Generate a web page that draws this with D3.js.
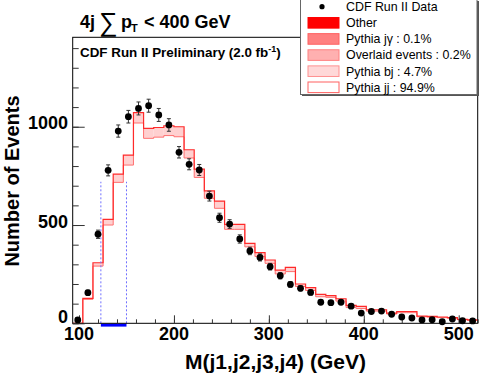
<!DOCTYPE html>
<html lang="en">
<head>
    <meta charset="UTF-8">
    <title>4j sum pT &lt; 400 GeV - M(j1,j2,j3,j4)</title>
    <script src="https://d3js.org/d3.v7.min.js"></script>
    <style>
        body {
            margin: 0;
            background: #fff;
            font-family: "Liberation Sans", Arial, Helvetica, sans-serif;
        }
        svg {
            display: block;
        }
        .tick-label {
            font-size: 18px;
            font-weight: bold;
            fill: #000;
        }
        .legend text {
            font-size: 12.4px;
            fill: #000;
        }
    </style>
</head>
<body>
    <svg width="479" height="374"></svg>
    <script>
        // histogram range: 40 bins between these masses (GeV)
        const massRange = [93.33, 520];
        const nBins = 40;

        // CDF data, events per bin
        const dataCounts = [17, 156, 453, 778, 978, 1051, 1093, 1107, 1060, 1009,
            870, 809, 780, 647, 537, 505, 429, 368, 335, 288,
            242, 198, 178, 157, 107, 105, 107, 87, 52, 60,
            62, 46, 32, 27, 17, 18, 8, 22, 13, 12];
        const dataErrors = [4, 12, 21, 28, 31, 32, 33, 33, 33, 32,
            29, 28, 28, 25, 23, 22, 21, 19, 18, 17,
            16, 14, 13, 13, 10, 10, 10, 9, 7, 8,
            8, 7, 6, 5, 4, 4, 3, 5, 4, 3];

        // stacked MC total (top of band) and Pythia jj alone (bottom of band)
        const mcTotal = [0, 127, 308, 529, 759, 856, 1072, 992, 996, 1005,
            1000, 883, 784, 674, 622, 503, 503, 407, 360, 322,
            271, 285, 200, 181, 147, 141, 125, 91, 86, 69,
            69, 52, 60, 60, 37, 35, 32, 29, 20, 17];
        const mcJJ = [0, 122, 291, 500, 717, 805, 1019, 941, 947, 955,
            949, 841, 742, 636, 585, 478, 478, 389, 340, 305,
            251, 263, 187, 167, 135, 132, 113, 80, 75, 62,
            62, 47, 54, 54, 33, 31, 29, 26, 18, 15];

        // blue marked window on the mass axis
        const markWindow = [123, 150];
        const markHeight = 720;

        const xMajor = [100, 200, 300, 400, 500];
        const yMajor = [0, 500, 1000];

        const legendLabels = ["CDF Run II Data", "Other", "Pythia j\u03b3 : 0.1%",
            "Overlaid events : 0.2%", "Pythia bj : 4.7%", "Pythia jj : 94.9%"];
        const legendFills = [null, "#ff0000", "#ff8080", "#ffb0b0", "#ffd8d8", "#ffffff"];
        const legendStrokes = [null, "#ff0000", "#ff6060", "#ff8080", "#ff9090", "#ff6060"];

        const svg = d3.select("svg");

        const frame = { left: 72.7, right: 477.7, top: 37.3, bottom: 323.3 };

        const x = d3.scaleLinear().domain(massRange).range([frame.left, frame.right]);
        const y = d3.scaleLinear().domain([0, 1455]).range([frame.bottom, frame.top]);

        const binWidth = (massRange[1] - massRange[0]) / nBins;
        const edge = i => massRange[0] + i * binWidth;
        const center = i => massRange[0] + (i + 0.5) * binWidth;

        // step path helper
        function stepPoints(vals) {
            const pts = [[x(edge(0)), y(0)]];
            vals.forEach((v, i) => {
                pts.push([x(edge(i)), y(v)]);
                pts.push([x(edge(i + 1)), y(v)]);
            });
            return pts;
        }

        // band between jj and total
        const band = [];
        mcTotal.forEach((v, i) => {
            band.push({ x0: edge(i), x1: edge(i + 1), lo: mcJJ[i], hi: v });
        });
        svg.append("g").selectAll("rect")
            .data(band)
            .enter().append("rect")
            .attr("x", d => x(d.x0))
            .attr("width", d => x(d.x1) - x(d.x0))
            .attr("y", d => y(d.hi))
            .attr("height", d => y(d.lo) - y(d.hi))
            .attr("fill", "#ffd0d0");

        const line = d3.line();
        svg.append("path")
            .attr("d", line(stepPoints(mcJJ)))
            .attr("fill", "none")
            .attr("stroke", "#ff7070")
            .attr("stroke-width", 1);
        svg.append("path")
            .attr("d", line(stepPoints(mcTotal)))
            .attr("fill", "none")
            .attr("stroke", "#ff2a2a")
            .attr("stroke-width", 1.2);

        // blue window
        markWindow.forEach(m => {
            svg.append("line")
                .attr("x1", x(m)).attr("x2", x(m))
                .attr("y1", y(0)).attr("y2", y(markHeight))
                .attr("stroke", "#7070ff")
                .attr("stroke-width", 1)
                .attr("stroke-dasharray", "2,2");
        });
        svg.append("line")
            .attr("x1", x(markWindow[0])).attr("x2", x(markWindow[1]))
            .attr("y1", y(0) + 1.8).attr("y2", y(0) + 1.8)
            .attr("stroke", "#0000ff")
            .attr("stroke-width", 3);

        // frame
        svg.append("rect")
            .attr("x", frame.left).attr("y", frame.top)
            .attr("width", frame.right - frame.left)
            .attr("height", frame.bottom - frame.top)
            .attr("fill", "none")
            .attr("stroke", "#000")
            .attr("stroke-width", 1);

        // x ticks
        const xMinor = d3.range(100, 521, 20);
        svg.append("g").attr("transform", `translate(0,${frame.bottom})`)
            .call(d3.axisBottom(x).tickValues(xMinor).tickSize(-4).tickFormat(""))
            .call(g => g.select(".domain").remove())
            .selectAll("line").attr("stroke", "#333");
        svg.append("g").attr("transform", `translate(0,${frame.bottom})`)
            .call(d3.axisBottom(x).tickValues(xMajor).tickSize(-8).tickFormat(""))
            .call(g => g.select(".domain").remove())
            .selectAll("line").attr("stroke", "#333");
        svg.append("g").selectAll("text")
            .data(xMajor)
            .enter().append("text")
            .attr("class", "tick-label")
            .attr("x", d => x(d))
            .attr("y", 340)
            .attr("text-anchor", "middle")
            .text(d => d);

        // y ticks
        const yMinor = d3.range(0, 1401, 100);
        svg.append("g").attr("transform", `translate(${frame.left},0)`)
            .call(d3.axisLeft(y).tickValues(yMinor).tickSize(-6).tickFormat(""))
            .call(g => g.select(".domain").remove())
            .selectAll("line").attr("stroke", "#333");
        svg.append("g").attr("transform", `translate(${frame.left},0)`)
            .call(d3.axisLeft(y).tickValues(yMajor).tickSize(-12).tickFormat(""))
            .call(g => g.select(".domain").remove())
            .selectAll("line").attr("stroke", "#333");
        svg.append("g").selectAll("text")
            .data(yMajor)
            .enter().append("text")
            .attr("class", "tick-label")
            .attr("x", 68)
            .attr("y", d => y(d) + (d === 0 ? 0 : 2.5))
            .attr("text-anchor", "end")
            .text(d => d);

        // data points with error bars
        const pts = dataCounts.map((v, i) => ({ m: center(i), v: v, e: dataErrors[i] }));
        const eb = svg.append("g").attr("stroke", "#333").attr("stroke-width", 1);
        eb.selectAll("line.bar")
            .data(pts)
            .enter().append("line")
            .attr("class", "bar")
            .attr("x1", d => x(d.m)).attr("x2", d => x(d.m))
            .attr("y1", d => y(d.v - d.e)).attr("y2", d => y(d.v + d.e));
        eb.selectAll("line.capt")
            .data(pts)
            .enter().append("line")
            .attr("class", "capt")
            .attr("x1", d => x(d.m) - 2).attr("x2", d => x(d.m) + 2)
            .attr("y1", d => y(d.v + d.e)).attr("y2", d => y(d.v + d.e));
        eb.selectAll("line.capb")
            .data(pts)
            .enter().append("line")
            .attr("class", "capb")
            .attr("x1", d => x(d.m) - 2).attr("x2", d => x(d.m) + 2)
            .attr("y1", d => y(d.v - d.e)).attr("y2", d => y(d.v - d.e));
        svg.append("g").selectAll("circle")
            .data(pts)
            .enter().append("circle")
            .attr("cx", d => x(d.m))
            .attr("cy", d => y(d.v))
            .attr("r", 3.4)
            .attr("fill", "#000");

        // axis titles
        svg.append("text")
            .attr("x", 275.5).attr("y", 369)
            .attr("text-anchor", "middle")
            .attr("font-size", 21).attr("font-weight", "bold")
            .text("M(j1,j2,j3,j4) (GeV)");
        svg.append("text")
            .attr("transform", "translate(18.5,181) rotate(-90)")
            .attr("text-anchor", "middle")
            .attr("font-size", 20).attr("font-weight", "bold")
            .text("Number of Events");

        // title
        const title = svg.append("g").attr("font-weight", "bold");
        title.append("text").attr("x", 80).attr("y", 28).attr("font-size", 18).text("4j");
        title.append("text").attr("x", 99).attr("y", 31).attr("font-size", 26)
            .attr("font-weight", "normal").text("\u2211");
        title.append("text").attr("x", 121).attr("y", 28).attr("font-size", 18).text("p");
        title.append("text").attr("x", 131).attr("y", 32).attr("font-size", 11).text("T");
        title.append("text").attr("x", 144).attr("y", 28).attr("font-size", 18).text("< 400 GeV");

        const prelim = svg.append("text")
            .attr("x", 80).attr("y", 57)
            .attr("font-size", 13.4).attr("font-weight", "bold");
        prelim.append("tspan").text("CDF Run II Preliminary (2.0 fb");
        prelim.append("tspan").attr("dy", -5.5).attr("font-size", 9).text("-1");
        prelim.append("tspan").attr("dy", 5.5).text(")");

        // legend
        const leg = svg.append("g").attr("class", "legend");
        leg.append("rect")
            .attr("x", 302).attr("y", 1)
            .attr("width", 177).attr("height", 95)
            .attr("fill", "#555");
        leg.append("rect")
            .attr("x", 300.5).attr("y", -1)
            .attr("width", 176.5).attr("height", 95.5)
            .attr("fill", "#fff")
            .attr("stroke", "#666")
            .attr("stroke-width", 1);
        const rowY = d3.scaleLinear().domain([0, 5]).range([6.7, 87.3]);
        legendLabels.forEach((lab, i) => {
            const cy = rowY(i);
            if (i === 0) {
                leg.append("circle").attr("cx", 322).attr("cy", cy).attr("r", 2.6).attr("fill", "#000");
            } else {
                leg.append("rect")
                    .attr("x", 308).attr("y", cy - 5.3)
                    .attr("width", 31).attr("height", 10.6)
                    .attr("fill", legendFills[i])
                    .attr("stroke", legendStrokes[i])
                    .attr("stroke-width", 1);
            }
            leg.append("text")
                .attr("x", 346).attr("y", cy + 4.4)
                .text(lab);
        });
    </script>
</body>
</html>
